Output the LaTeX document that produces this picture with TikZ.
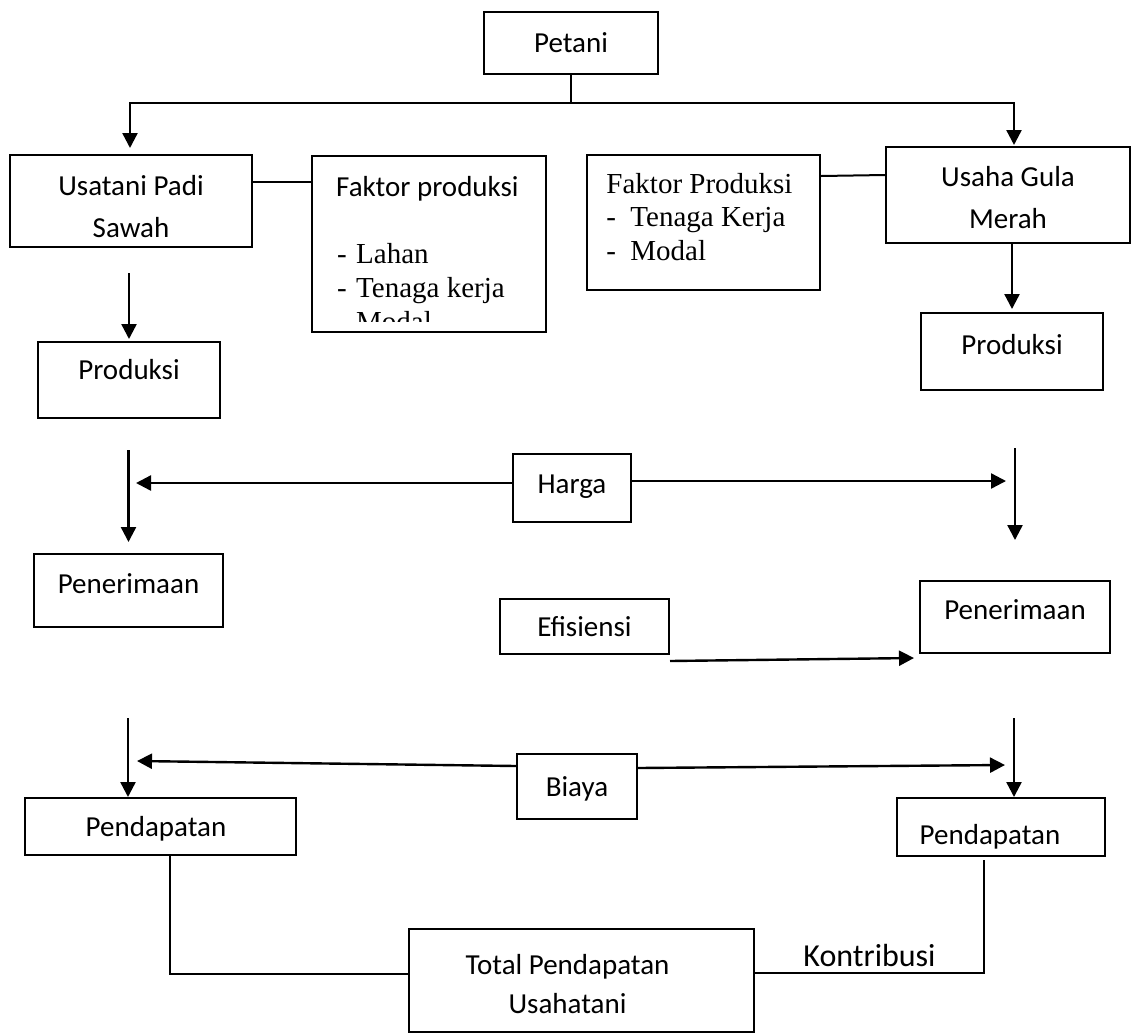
\documentclass[tikz,border=0pt]{standalone}
\usepackage{fontspec}
\setmainfont{Carlito}
\newfontfamily\tnr{Liberation Serif}
\usetikzlibrary{arrows.meta}
\begin{document}
\begin{tikzpicture}[x=1pt,y=-1pt,
  box/.style={draw, line width=2pt, rectangle, inner sep=0pt, font=\fontsize{29pt}{42pt}\selectfont, align=center},
  sl/.style={text height=22pt, text depth=#1}, sl/.default=3pt,
  arr/.style={line width=2.4pt, -{Triangle[length=15pt,width=15pt]}},
  link/.style={line width=2pt},
  thinlink/.style={line width=1.3pt},
  ftxt/.style={anchor=base west, inner sep=0pt, font=\tnr\fontsize{29pt}{34pt}\selectfont}
]
\useasboundingbox (0,0) rectangle (1132,1034);

% boxes
\node[box, sl, minimum width=174pt, minimum height=62pt] (petani) at (571,43) {Petani};
\node[box, minimum width=242pt, minimum height=92pt] (usatani) at (131,201) {\rule{0pt}{31pt}Usatani Padi\\Sawah};
\node[box, minimum width=234pt, minimum height=176pt] (fpl) at (429,244) {};
\node[box, minimum width=233pt, minimum height=135pt, align=left, font=\tnr\fontsize{29pt}{33.5pt}\selectfont] (fpr) at (703.5,222.5) {Faktor Produksi\hspace*{8pt}\\\makebox[24pt][l]{-}Tenaga Kerja\\\makebox[24pt][l]{-}Modal\rule[-12pt]{0pt}{12pt}};
\node[box, minimum width=244pt, minimum height=96pt] (ugm) at (1008,195) {\rule{0pt}{24.5pt}Usaha Gula\\Merah};
\node[box, sl=23pt, minimum width=182pt, minimum height=76pt] (prodL) at (129,380) {Produksi};
\node[box, sl=16pt, minimum width=182pt, minimum height=77pt] (prodR) at (1012,351.5) {Produksi};
\node[box, sl=11pt, minimum width=118pt, minimum height=68pt] (harga) at (572,488) {Harga};
\node[box, sl=16pt, minimum width=189pt, minimum height=73pt] (penL) at (128.5,590.5) {Penerimaan};
\node[box, sl, minimum width=169pt, minimum height=55pt] (effi) at (584.5,626.5) {Efisiensi};
\node[box, sl=17pt, minimum width=190pt, minimum height=72pt] (penR) at (1015,617) {Penerimaan};
\node[box, sl, minimum width=120pt, minimum height=65pt] (biaya) at (577,786.5) {Biaya};
\node[box, sl, minimum width=271pt, minimum height=57pt] (pendL) at (160.5,826.5) {Pendapatan\hspace*{9pt}};
\node[box, text height=38pt, text depth=3pt, minimum width=208pt, minimum height=58pt] (pendR) at (1001,827) {Pendapatan\hspace*{22pt}};
\node[box, minimum width=345pt, minimum height=103pt, font=\fontsize{29pt}{39pt}\selectfont] (total) at (581.5,980.5) {\rule{0pt}{26.5pt}Total Pendapatan\hspace*{28pt}\\Usahatani\hspace*{28pt}};

% clipped text of the left Faktor produksi box
\begin{scope}
\clip (fpl.north west) rectangle ([yshift=12pt]fpl.south east);
\node[ftxt, font=\fontsize{29pt}{34pt}\selectfont] (fl1) at (336,196) {Faktor produksi};
\node[ftxt] (fl2) at (337,263) {\makebox[19pt][l]{-}Lahan};
\node[ftxt] (fl3) at (337,297) {\makebox[19pt][l]{-}Tenaga kerja};
\node[ftxt] (fl4) at (337,331) {\makebox[19pt][l]{-}Modal};
\end{scope}

% connectors
\coordinate (split) at (petani.south |- 0,103);
\draw[link] (petani.south) -- (split);
\draw[arr] (split) -| ([xshift=-1pt,yshift=6pt]usatani.north);
\draw[arr] (split) -| ([xshift=6pt,yshift=1pt]ugm.north);

\draw[link] (usatani.east |- 0,182) -- (fpl.west |- 0,182);
\draw[link] (fpr.east |- 0,176) -- (ugm.west |- 0,175);

\draw[arr] (prodL.north |- 0,273) -- ([yshift=2pt]prodL.north);
\draw[arr] (ugm.south -| prodR.north) -- ([yshift=3pt]prodR.north);

\draw[arr] (penL.north |- 0,450) -- ([yshift=11pt]penL.north);
\coordinate (hl) at (136,483);
\coordinate (hr) at (1006,481);
\draw[arr] (harga.west |- hl) -- (hl);
\draw[arr] (harga.east |- hr) -- (hr);
\draw[arr] (penR.north |- 0,448) -- ([yshift=40pt]penR.north);
\draw[arr] ([yshift=-6pt]effi.south east) -- ([xshift=-5pt,yshift=-4pt]penR.south west);

\coordinate (dl) at (128,718);
\draw[arr] (dl) -- (dl |- pendL.north);
\coordinate (bl) at (137,761);
\coordinate (br) at (1005,765);
\draw[arr] ([yshift=20.5pt]biaya.west) -- (bl);
\draw[arr] ([yshift=18.5pt]biaya.east) -- (br);
\coordinate (dr) at (1014,718);
\draw[arr] (dr) -- (dr |- pendR.north);

\draw[thinlink] ([xshift=9.5pt]pendL.south) |- (total.west |- 0,974);
\draw[thinlink] (total.east |- 0,973) -| node[pos=0.25, above=6pt, inner sep=0pt, font=\fontsize{32pt}{38pt}\selectfont] (kontr) {Kontribusi} ([xshift=-17pt,yshift=-3pt]pendR.south);
\end{tikzpicture}
\end{document}
